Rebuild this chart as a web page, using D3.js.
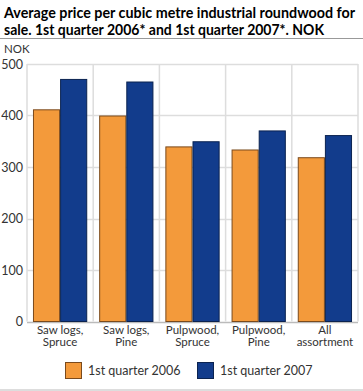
<!doctype html>
<html>
<head>
<meta charset='utf-8'>
<style>
  body { margin: 0; background: #fff; }
  svg { display: block; font-family: Lato, 'Open Sans', sans-serif; }
</style>
</head>
<body>
<div id='chart'></div>
<script src='https://cdn.jsdelivr.net/npm/d3@7/dist/d3.min.js'></script>
<script>

const categories = [['Saw logs,', 'Spruce'], ['Saw logs,', 'Pine'], ['Pulpwood,', 'Spruce'], ['Pulpwood,', 'Pine'], ['All', 'assortment']];
const seriesNames = ['1st quarter 2006', '1st quarter 2007'];
const q2006 = [412, 400, 340, 334, 319];
const q2007 = [471, 466, 350, 371, 362];
const yTicks = [0, 100, 200, 300, 400, 500];
const colors = ['#f39a3b', '#123c8c'];
const strokes = ['#7a4a1c', '#0b2350'];

const W = 363, H = 391;
const margin = {t: 64, r: 5, b: 70, l: 27};

const svg = d3.select('#chart')
  .append('svg')
  .attr('width', W)
  .attr('height', H);

// title, two lines
const titleLines = ['Average price per cubic metre industrial roundwood for',
                    'sale. 1st quarter 2006* and 1st quarter 2007*. NOK'];
const titleWidths = [351, 320];
svg.selectAll('.title')
  .data(titleLines)
  .enter().append('text')
  .attr('class', 'title')
  .attr('x', 4)
  .attr('y', (d, i) => 18 + i * 17)
  .attr('textLength', (d, i) => titleWidths[i])
  .attr('lengthAdjust', 'spacingAndGlyphs')
  .style('font-size', '14.5px')
  .style('font-weight', 'bold')
  .style('fill', '#000')
  .text(d => d);

svg.append('line')
  .attr('x1', 0).attr('x2', W)
  .attr('y1', 38.5).attr('y2', 38.5)
  .style('stroke', '#999');

svg.append('text')
  .attr('x', 4).attr('y', 53)
  .style('font-size', '11.5px')
  .style('fill', '#333')
  .text('NOK');

const x = d3.scaleBand()
  .domain(d3.range(categories.length))
  .range([margin.l, W - margin.r])
  .paddingInner(0)
  .paddingOuter(0);

const x1 = d3.scaleBand()
  .domain([0, 1])
  .range([0, x.bandwidth()])
  .paddingOuter(0.22)
  .paddingInner(0);

const y = d3.scaleLinear()
  .domain([0, 500])
  .range([321.5, margin.t]);

const plot = svg.append('g');

// grid
plot.selectAll('.hgrid')
  .data(yTicks)
  .enter().append('line')
  .attr('class', 'hgrid')
  .attr('x1', margin.l).attr('x2', W - margin.r)
  .attr('y1', d => Math.round(y(d)) + 0.5)
  .attr('y2', d => Math.round(y(d)) + 0.5)
  .style('stroke', d => d === 0 ? '#bbb' : '#ddd')
  .style('stroke-width', 1.5);

plot.selectAll('.vgrid')
  .data(d3.range(categories.length + 1))
  .enter().append('line')
  .attr('class', 'vgrid')
  .attr('x1', d => d < categories.length ? x(d) : x.range()[1])
  .attr('x2', d => d < categories.length ? x(d) : x.range()[1])
  .attr('y1', y(500)).attr('y2', y(0))
  .style('stroke', '#ddd')
  .style('stroke-width', 1.5);

// y tick labels
svg.selectAll('.ylab')
  .data(yTicks)
  .enter().append('text')
  .attr('class', 'ylab')
  .attr('x', 23)
  .attr('y', d => y(d) + 4.5)
  .attr('text-anchor', 'end')
  .style('font-size', '12.5px')
  .style('fill', '#333')
  .text(d => d);

// bars
const series = [q2006, q2007];
series.forEach(function(vals, s){
  plot.selectAll('.bar' + s)
    .data(vals)
    .enter().append('rect')
    .attr('class', 'bar' + s)
    .attr('x', (d, i) => x(i) + x1(s) + 0.5)
    .attr('y', d => y(d) + 0.5)
    .attr('width', x1.bandwidth() - 1)
    .attr('height', d => y(0) - y(d) - 0.5)
    .style('fill', colors[s])
    .style('stroke', strokes[s])
    .style('stroke-width', 1);
});

// category labels, two lines each
const catLines = [0, 1];
catLines.forEach(function(li){
  svg.selectAll('.cat' + li)
    .data(categories)
    .enter().append('text')
    .attr('class', 'cat' + li)
    .attr('text-anchor', 'middle')
    .attr('x', (d, i) => x(i) + x.bandwidth() / 2)
    .attr('y', 334 + li * 12)
    .style('font-size', '11.5px')
    .style('fill', '#333')
    .text(d => d[li]);
});

// legend
const legendX = [65, 197];
const leg = svg.selectAll('.leg')
  .data(seriesNames)
  .enter().append('g')
  .attr('class', 'leg')
  .attr('transform', (d, i) => `translate(${legendX[i]}, 362)`);
leg.append('rect')
  .attr('x', 0.5).attr('y', 0.5)
  .attr('width', 16).attr('height', 16)
  .style('fill', (d, i) => colors[i])
  .style('stroke', (d, i) => strokes[i]);
leg.append('text')
  .attr('x', 23).attr('y', 13)
  .style('font-size', '12.5px')
  .style('fill', '#333')
  .text(d => d);

svg.append('rect')
  .attr('x', 0).attr('y', 389)
  .attr('width', W).attr('height', 2)
  .style('fill', '#ddd');

</script>
</body>
</html>
